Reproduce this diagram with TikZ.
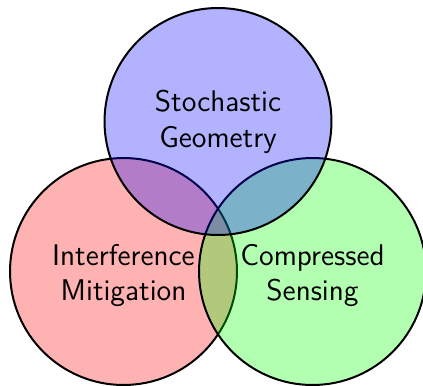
\documentclass[tikz,border=0pt]{standalone}
\begin{document}
\begin{tikzpicture}[x=0.01762cm,y=-0.01762cm,
  setcircle/.style={draw=black,line width=1pt,fill opacity=0.3},
  setlabel/.style={align=center,font=\sffamily\fontsize{15}{18}\selectfont,text=black}]
\useasboundingbox (0,0) rectangle (423,385);
\coordinate (cl) at (123.5,271.5);
\coordinate (cr) at (312.5,271.5);
\coordinate (ct) at (218,121.5);
\path[setcircle,fill=red] (cl) circle[radius=2cm];
\path[setcircle,fill=green] (cr) circle[radius=2cm];
\path[setcircle,fill=blue] (ct) circle[radius=2cm];
\node[setlabel] (sg) at (ct) {Stochastic\\Geometry};
\node[setlabel] (im) at ([yshift=-2pt]cl) {Interference\\Mitigation};
\node[setlabel] (cs) at ([yshift=-2pt]cr) {Compressed\\Sensing};
\end{tikzpicture}
\end{document}
